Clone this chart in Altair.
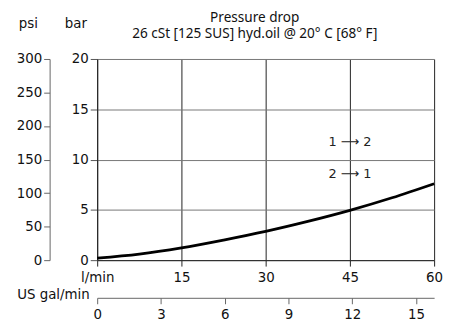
import altair as alt
import pandas as pd

# Curve: pressure drop (bar) vs flow (l/min)
flow_lpm = [0, 7.5, 15, 22.5, 30, 37.5, 45, 52.5, 60]
dp_bar = [0.2, 0.6, 1.22, 2.0, 2.86, 3.85, 4.95, 6.2, 7.6]

psi_ticks = [0, 50, 100, 150, 200, 250, 300]
gal_ticks = [0, 3, 6, 9, 12, 15]
lpm_ticks = [0, 15, 30, 45, 60]
bar_ticks = [0, 5, 10, 15, 20]

arrow_labels = ["1 ⟶ 2", "2 ⟶ 1"]
arrow_x = [45, 45]
arrow_y = [11.7, 8.55]

LPM_PER_GAL = 3.78541
AX_FONT = "DejaVu Sans"
T_FONT = "Noto Sans"
FS = 13.5

curve = pd.DataFrame({"q": flow_lpm, "p": dp_bar})
arrows = pd.DataFrame({"t": arrow_labels, "q": arrow_x, "p": arrow_y})
psi_df = pd.DataFrame({"psi": psi_ticks})
gal_df = pd.DataFrame({"gal": gal_ticks})


def xs():
    return alt.Scale(domain=[0, 60], nice=False, zero=True)


def ys():
    return alt.Scale(domain=[0, 20], nice=False, zero=True)


line = alt.Chart(curve).mark_line(color="black", strokeWidth=2.8, interpolate="monotone").encode(
    x=alt.X("q:Q", scale=xs(), axis=alt.Axis(
        values=lpm_ticks, title=None, grid=True, gridColor="#222", gridWidth=1,
        domainColor="#222", tickColor="#222", tickSize=6, labelPadding=5, labelFlush=False,
        labelExpr="datum.value == 0 ? 'l/min' : datum.label")),
    y=alt.Y("p:Q", scale=ys(), axis=alt.Axis(
        values=bar_ticks, title="bar", titleAngle=0, titleX=-22, titleY=-36,
        titleAlign="center", titleBaseline="middle", grid=True, gridColor="#777",
        gridWidth=1, domainColor="#222", tickColor="#555", tickSize=7, labelPadding=2,
        labelFlush=False)),
)

txt = alt.Chart(arrows).mark_text(font="DejaVu Sans", fontSize=13, color="#222").encode(
    x=alt.X("q:Q", scale=xs(), axis=None),
    y=alt.Y("p:Q", scale=ys(), axis=None),
    text="t:N",
)

psi = alt.Chart(psi_df).mark_point(opacity=0).encode(
    y=alt.Y("psi:Q", scale=alt.Scale(domain=[0, 300], nice=False), axis=alt.Axis(
        orient="left", offset=48, values=psi_ticks, title="psi", titleAngle=0,
        titleX=-22, titleY=-36, titleAlign="center", titleBaseline="middle",
        grid=False, domainColor="#666", tickColor="#666", tickSize=6, labelPadding=2,
        labelFlush=False)),
)

gal = alt.Chart(gal_df).mark_point(opacity=0).encode(
    x=alt.X("gal:Q", scale=alt.Scale(domain=[0, 60 / LPM_PER_GAL], nice=False, zero=True),
            axis=alt.Axis(orient="bottom", offset=38, values=gal_ticks, title="US gal/min",
                          titleAngle=0, titleX=-8, titleY=-3, titleAlign="right",
                          titleBaseline="middle", grid=False, domainColor="#666",
                          tickColor="#666", tickSize=6, labelPadding=4, labelFlush=False)),
)

chart = alt.layer(line, txt, psi, gal).resolve_scale(x="independent", y="independent").properties(
    width=340, height=203,
    padding={"left": 8, "top": 1, "right": 5, "bottom": 2},
    title=alt.TitleParams(
        text="Pressure drop",
        subtitle="26 cSt [125 SUS] hyd.oil @ 20° C [68° F]",
        anchor="middle", frame="group", dx=-11, fontSize=13.7, subtitleFontSize=13.7,
        fontWeight="normal", font=T_FONT, subtitleFont=T_FONT, color="#111",
        subtitleColor="#111", subtitlePadding=3, offset=-25,
    ),
).configure_view(stroke=None).configure_axis(
    labelFont=AX_FONT, titleFont=AX_FONT, labelFontSize=FS, titleFontSize=FS,
    titleFontWeight="normal", labelColor="#111", titleColor="#111",
)

chart.save("out.html", embed_options={"renderer": "svg", "actions": False})
